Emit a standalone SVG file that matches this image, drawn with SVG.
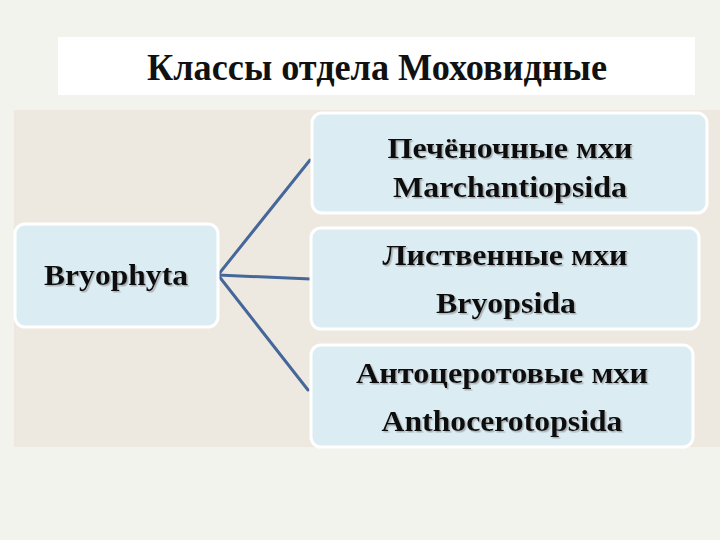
<svg xmlns="http://www.w3.org/2000/svg" width="720" height="540" viewBox="0 0 720 540">
<defs>
<filter id="sh" x="-5%" y="-20%" width="110%" height="140%">
<feDropShadow dx="1.5" dy="1.5" stdDeviation="0.6" flood-color="#888" flood-opacity="0.6"/>
</filter>
</defs>
<style>
.box{fill:#dbecf3;stroke:#ffffff;stroke-width:3}
.t{font-family:"Liberation Serif","Times New Roman",serif;font-weight:bold;font-size:30px;fill:#111;text-anchor:middle;filter:url(#sh)}
.title{font-family:"Liberation Serif","Times New Roman",serif;font-weight:bold;font-size:38px;fill:#111;text-anchor:middle}
.c{stroke:#46679a;stroke-width:3;fill:none;stroke-linecap:round}
</style>
<rect x="0" y="0" width="720" height="540" fill="#f3f3ee"/>
<rect x="14" y="110" width="706" height="337" fill="#eee9e0"/>
<g id="title">
<rect x="58" y="37" width="637" height="58" fill="#ffffff"/>
<text class="title" x="377" y="80" textLength="460" lengthAdjust="spacingAndGlyphs">Классы отдела Моховидные</text>
</g>
<g id="connectors">
<line class="c" x1="218" y1="275" x2="310" y2="160"/>
<line class="c" x1="218" y1="275" x2="311" y2="279"/>
<line class="c" x1="218" y1="275" x2="308" y2="390"/>
</g>
<g id="bryophyta">
<rect class="box" x="15" y="224" width="203" height="103" rx="10"/>
<text class="t" x="116" y="285" textLength="144" lengthAdjust="spacingAndGlyphs">Bryophyta</text>
</g>
<g id="marchantiopsida">
<rect class="box" x="312" y="113" width="395" height="100" rx="10"/>
<text class="t" x="510" y="158" textLength="245" lengthAdjust="spacingAndGlyphs">Печёночные мхи</text>
<text class="t" x="510" y="197" textLength="234" lengthAdjust="spacingAndGlyphs">Marchantiopsida</text>
</g>
<g id="bryopsida">
<rect class="box" x="311" y="228" width="388" height="101" rx="10"/>
<text class="t" x="505" y="265" textLength="245" lengthAdjust="spacingAndGlyphs">Лиственные мхи</text>
<text class="t" x="506" y="313" textLength="140" lengthAdjust="spacingAndGlyphs">Bryopsida</text>
</g>
<g id="anthocerotopsida">
<rect class="box" x="311" y="345" width="382" height="102" rx="10"/>
<text class="t" x="502" y="383" textLength="292" lengthAdjust="spacingAndGlyphs">Антоцеротовые мхи</text>
<text class="t" x="502" y="431" textLength="241" lengthAdjust="spacingAndGlyphs">Anthocerotopsida</text>
</g>
</svg>
